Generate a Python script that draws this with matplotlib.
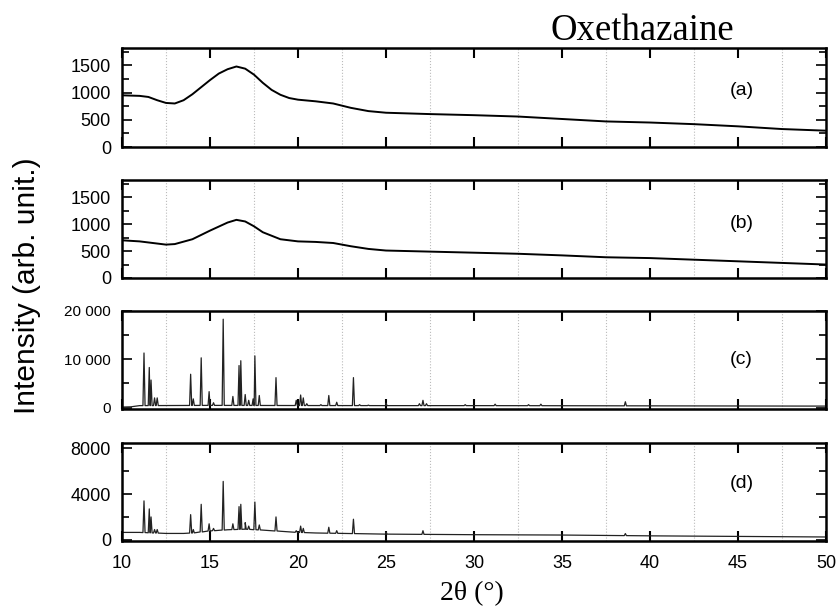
import numpy as np
import matplotlib
matplotlib.use("Agg")
import matplotlib.pyplot as plt
from matplotlib.ticker import MultipleLocator, FuncFormatter

plt.rcParams["font.family"] = ["Liberation Sans", "DejaVu Sans"]

# --- data (2theta in degrees, intensity in arb. units) ---
# (a) and (b): broad amorphous halos
tt_a = [10, 11, 11.5, 12, 12.5, 13, 13.5, 14, 14.5, 15, 15.5, 16, 16.5, 17, 17.5,
        18, 18.5, 19, 19.5, 20, 21, 22, 23, 24, 25, 27.5, 30, 32.5, 35, 37.5,
        40, 42.5, 45, 47.5, 50]
int_a = [950, 940, 920, 860, 810, 800, 860, 970, 1100, 1230, 1350, 1430, 1480, 1440, 1330,
         1180, 1050, 960, 900, 870, 840, 800, 720, 660, 630, 605, 585, 560, 515, 470,
         450, 420, 380, 330, 300]

tt_b = [10, 11, 12, 12.5, 13, 14, 15, 16, 16.5, 17, 17.5, 18, 19, 20, 21, 22,
        23, 24, 25, 27.5, 30, 32.5, 35, 37.5, 40, 42.5, 45, 47.5, 50]
int_b = [700, 680, 640, 620, 630, 720, 880, 1030, 1080, 1050, 960, 850, 720, 680, 670, 650,
         590, 540, 510, 490, 470, 450, 420, 385, 370, 340, 310, 280, 250]

# (c) and (d): crystalline patterns, background + sharp reflections
bg_tt_c = [10, 10.5, 11, 15, 20, 25, 30, 35, 40, 45, 50]
bg_c = [100, 150, 400, 450, 420, 400, 400, 380, 350, 330, 300]
peak_tt_c = [11.25, 11.55, 11.65, 11.85, 12.0, 13.9, 14.05, 14.5, 14.95, 15.2,
             15.75, 16.3, 16.65, 16.75, 17.0, 17.2, 17.45, 17.55, 17.8, 18.75,
             19.9, 20.15, 20.3, 20.5, 21.3, 21.75, 22.2, 23.15, 23.5, 24.0,
             25.0, 26.9, 27.1, 27.3, 29.5, 31.2, 33.1, 33.8, 38.6]
peak_int_c = [11300, 8300, 5700, 2000, 2000, 6900, 1800, 10300, 3300, 1000,
              18300, 2300, 8700, 9700, 2700, 1500, 1800, 10700, 2500, 6200,
              1500, 2600, 2000, 800, 600, 2500, 1100, 6200, 600, 500,
              900, 800, 1500, 800, 600, 700, 600, 700, 1200]

bg_tt_d = [10, 11, 12.5, 13.5, 14, 15, 16, 17, 18, 19, 20, 21, 23, 25, 30, 35, 40, 45, 50]
bg_d = [650, 650, 560, 560, 600, 780, 880, 930, 850, 750, 650, 600, 550, 500, 450, 420, 350, 300, 250]
peak_tt_d = [11.25, 11.55, 11.65, 11.85, 12.0, 13.9, 14.05, 14.5, 14.95, 15.2,
             15.75, 16.3, 16.65, 16.75, 17.0, 17.2, 17.55, 17.8, 18.75,
             19.9, 20.15, 20.3, 21.75, 22.2, 23.15, 25.0, 27.1, 38.6]
peak_int_d = [3400, 2700, 2000, 900, 900, 2200, 900, 3100, 1400, 1000,
              5100, 1400, 2900, 3100, 1500, 1200, 3300, 1300, 2000,
              800, 1200, 1000, 1100, 800, 1800, 700, 800, 550]


def pattern(bg_tt, bg, p_tt, p_int, hw=0.06):
    # background polyline with each reflection drawn as a narrow spike
    xs = list(bg_tt)
    ys = list(bg)
    for p, h in zip(p_tt, p_int):
        b = np.interp(p, bg_tt, bg)
        xs += [p - hw, p, p + hw]
        ys += [b, h, b]
    order = np.argsort(xs, kind="stable")
    return np.array(xs)[order], np.array(ys)[order]


fig = plt.figure(figsize=(8.37, 6.08), dpi=100)
W, H = 837, 608
left, right = 122, 826
boxes = [(48, 147), (180, 278), (311, 409), (443, 541)]

axes = []
for top, bot in boxes:
    ax = fig.add_axes([left / W, 1 - bot / H, (right - left) / W, (bot - top) / H])
    axes.append(ax)

ax_a, ax_b, ax_c, ax_d = axes

ax_a.plot(tt_a, int_a, color="black", lw=1.4)
ax_b.plot(tt_b, int_b, color="black", lw=1.4)
xc, yc = pattern(bg_tt_c, bg_c, peak_tt_c, peak_int_c)
ax_c.plot(xc, yc, color="#222222", lw=0.9)
xd, yd = pattern(bg_tt_d, bg_d, peak_tt_d, peak_int_d)
ax_d.plot(xd, yd, color="#222222", lw=0.9)

ax_a.set_ylim(0, 1820)
ax_b.set_ylim(0, 1820)
ax_c.set_ylim(-300, 20000)
ax_d.set_ylim(-100, 8450)

for ax in (ax_a, ax_b):
    ax.yaxis.set_major_locator(MultipleLocator(500))
    ax.yaxis.set_minor_locator(MultipleLocator(250))
ax_c.yaxis.set_major_locator(MultipleLocator(10000))
ax_c.yaxis.set_minor_locator(MultipleLocator(5000))
ax_c.yaxis.set_major_formatter(FuncFormatter(lambda v, p: f"{int(v):,}".replace(",", " ")))
ax_d.yaxis.set_major_locator(MultipleLocator(4000))
ax_d.yaxis.set_minor_locator(MultipleLocator(2000))

for ax, lab, ly in zip(axes, ["(a)", "(b)", "(c)", "(d)"], [0.57, 0.56, 0.5, 0.59]):
    ax.set_xlim(10, 50)
    ax.xaxis.set_major_locator(MultipleLocator(5))
    ax.set_xticks(np.arange(12.5, 50, 5), minor=True)
    ax.grid(True, which="minor", axis="x", color="#bbbbbb", ls=":", lw=0.8)
    ax.tick_params(axis="x", which="major", direction="in", top=True, bottom=True,
                   length=7, width=1.5, pad=10, labelsize=13)
    ax.tick_params(axis="x", which="minor", length=0)
    ax.tick_params(axis="y", which="both", direction="in", left=True, right=True,
                   width=1.2, pad=8, labelsize=13)
    ax.tick_params(axis="y", which="major", length=7)
    ax.tick_params(axis="y", which="minor", length=5)
    for s in ax.spines.values():
        s.set_linewidth(1.8)
    ax.text(45.2, ly, lab, transform=ax.get_xaxis_transform(), ha="center", va="center",
            fontsize=14)
    if ax is not ax_d:
        ax.tick_params(axis="x", labelbottom=False)

ax_c.tick_params(axis="y", labelsize=11)

fig.text(642 / W, 1 - 40 / H, "Oxethazaine", ha="center", va="baseline",
         fontsize=26.5, family="Liberation Serif")
fig.text(472 / W, 1 - 594 / H, "2θ (°)", ha="center", va="center",
         fontsize=20, family="Liberation Serif")
fig.text(27 / W, 1 - 286 / H, "Intensity (arb. unit.)", ha="center", va="center",
         rotation=90, fontsize=21.5)

fig.savefig("out.png", dpi=100)
